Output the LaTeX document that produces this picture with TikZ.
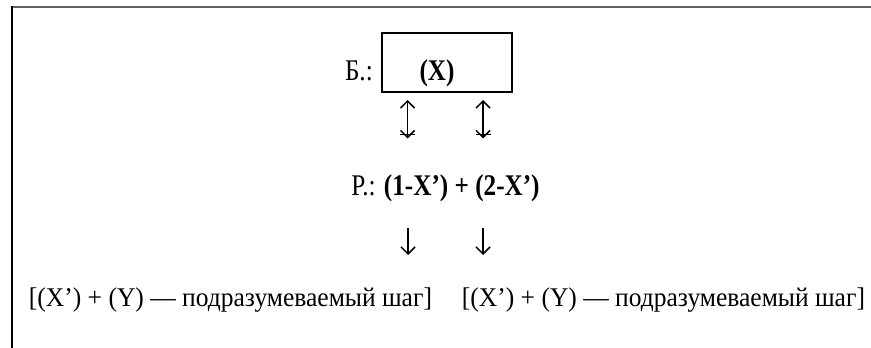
\documentclass[tikz,border=0pt]{standalone}
\usepackage{fontspec}
\setmainfont{Liberation Serif}
\newfontfamily\narrowfont[FakeStretch=0.84]{Liberation Serif}
\newfontfamily\lowfont[FakeStretch=0.945]{Liberation Serif}
\usetikzlibrary{arrows.meta}
\definecolor{framegray}{RGB}{100,100,100}

\tikzset{
  bigtxt/.style={anchor=base, inner sep=0pt, font=\narrowfont\fontsize{30}{34}\selectfont},
  smalltxt/.style={anchor=base, inner sep=0pt, font=\lowfont\fontsize{27}{31}\selectfont},
  barbarrow/.style={line width=1.5pt, {Straight Barb[length=7pt,width=14pt]}-{Straight Barb[length=7pt,width=14pt]}},
  downarrow/.style={line width=1.5pt, -{Straight Barb[length=7pt,width=14pt]}}
}

\begin{document}
\begin{tikzpicture}[x=1pt, y=-1pt]
  \useasboundingbox (0,0) rectangle (871,348);
  % frame
  \draw[framegray, line width=2pt] (11,6.5) -- (871,6.5);
  \draw[black, line width=2pt] (11.5,6) -- (11.5,348);
  % substrate box
  \node[draw, line width=1.2pt, minimum width=130pt, minimum height=59pt, inner sep=0pt] (box) at (447,62.5) {};
  \node[bigtxt, anchor=base east] (blabel) at (373,80) {Б.:};
  \node[bigtxt] (xsub) at (437,80) {\textbf{(X)}};
  % reaction line
  \node[bigtxt] (react) at (445.5,195) {Р.: \textbf{(1-X’) + (2-X’)}};
  % double arrows
  \coordinate (up1) at (407.5,100);
  \coordinate (lo1) at (407.5,138.5);
  \coordinate (up2) at (483,100);
  \coordinate (lo2) at (483,138.5);
  \draw[barbarrow] (up1) -- (lo1);
  \draw[barbarrow] (up2) -- (lo2);
  \draw[line width=1.5pt] ([xshift=-7.5pt,yshift=4pt]lo1) -- ([xshift=7.5pt,yshift=4pt]lo1);
  \draw[line width=1.5pt] ([xshift=-7.5pt,yshift=4pt]lo2) -- ([xshift=7.5pt,yshift=4pt]lo2);
  % products
  \node[smalltxt] (prod1) at (230.5,306) {[(X’) + (Y) — подразумеваемый шаг]};
  \node[smalltxt] (prod2) at (663.5,306) {[(X’) + (Y) — подразумеваемый шаг]};
  \coordinate (dn1) at (408,228);
  \coordinate (dn2) at (483,228);
  \draw[downarrow] (dn1) -- (408,255);
  \draw[downarrow] (dn2) -- (483,255);
\end{tikzpicture}
\end{document}
